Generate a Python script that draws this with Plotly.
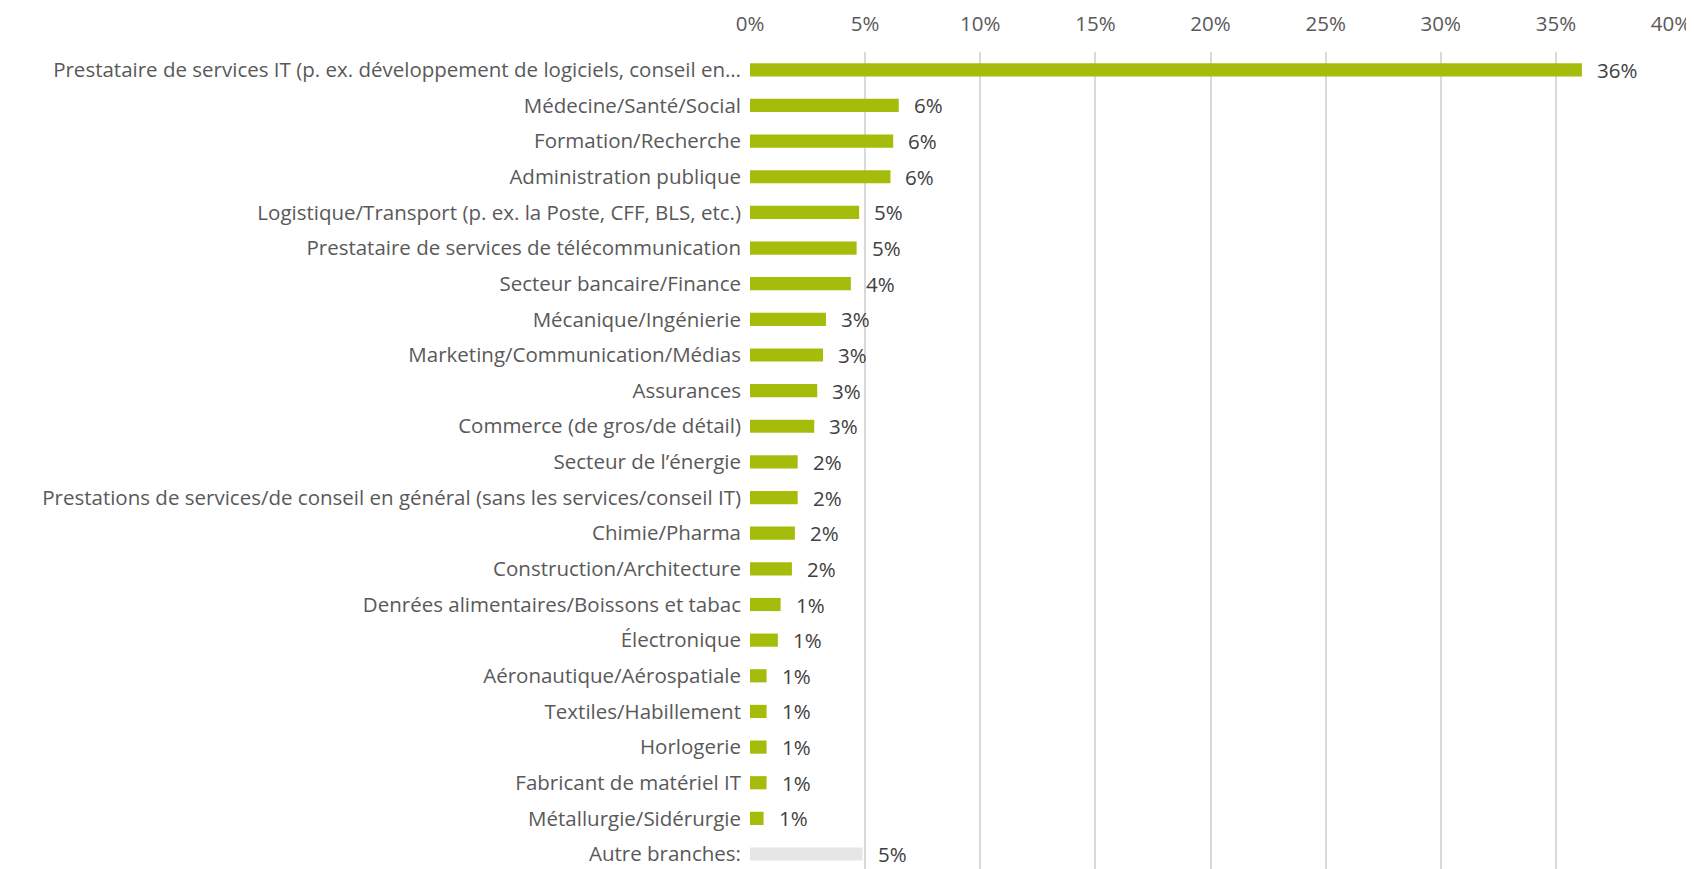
import plotly.graph_objects as go

categories = [
    "Prestataire de services IT (p. ex. développement de logiciels, conseil en…",
    "Médecine/Santé/Social",
    "Formation/Recherche",
    "Administration publique",
    "Logistique/Transport (p. ex. la Poste, CFF, BLS, etc.)",
    "Prestataire de services de télécommunication",
    "Secteur bancaire/Finance",
    "Mécanique/Ingénierie",
    "Marketing/Communication/Médias",
    "Assurances",
    "Commerce (de gros/de détail)",
    "Secteur de l’énergie",
    "Prestations de services/de conseil en général (sans les services/conseil IT)",
    "Chimie/Pharma",
    "Construction/Architecture",
    "Denrées alimentaires/Boissons et tabac",
    "Électronique",
    "Aéronautique/Aérospatiale",
    "Textiles/Habillement",
    "Horlogerie",
    "Fabricant de matériel IT",
    "Métallurgie/Sidérurgie",
    "Autre branches:",
]
values = [0.3613, 0.0646, 0.0622, 0.0610, 0.0474, 0.0463, 0.0438, 0.0330, 0.0317,
          0.0292, 0.0279, 0.0207, 0.0207, 0.0195, 0.0182, 0.0133, 0.0121, 0.0072,
          0.0072, 0.0072, 0.0072, 0.0059, 0.0489]
colors = ["#A5BC0A"] * 22 + ["#E6E6E6"]
x_ticks = [0, 0.05, 0.10, 0.15, 0.20, 0.25, 0.30, 0.35, 0.40]

FONT = "Open Sans"
FS = 20.5

fig = go.Figure(go.Bar(
    x=values, y=categories, orientation="h",
    marker=dict(color=colors, line=dict(width=0)),
    width=0.37,
))

for c, v in zip(categories, values):
    fig.add_annotation(x=v, y=c, text=f"{v*100:.0f}%", showarrow=False,
                       xanchor="left", xshift=13,
                       font=dict(family=FONT, size=FS, color="#404040"))

fig.update_layout(
    width=1686, height=861,
    margin=dict(l=742, r=23, t=44, b=0, autoexpand=False),
    paper_bgcolor="white", plot_bgcolor="white",
    showlegend=False,
    font=dict(family=FONT, size=FS, color="#595959"),
    xaxis=dict(side="top", range=[0, 0.40], tickvals=x_ticks, tickformat=".0%",
               showgrid=True, gridcolor="#D9D9D9", gridwidth=2, zeroline=False,
               ticks="", ticklabelstandoff=16, automargin=False,
               ticklabeloverflow="allow",
               tickfont=dict(family=FONT, size=FS, color="#595959")),
    yaxis=dict(categoryorder="array", categoryarray=categories,
               range=[22.42, -0.5], ticks="", ticklabelstandoff=8,
               showgrid=False, zeroline=False, automargin=False,
               ticklabeloverflow="allow",
               tickfont=dict(family=FONT, size=FS, color="#595959")),
)

fig.write_html("out.html")
